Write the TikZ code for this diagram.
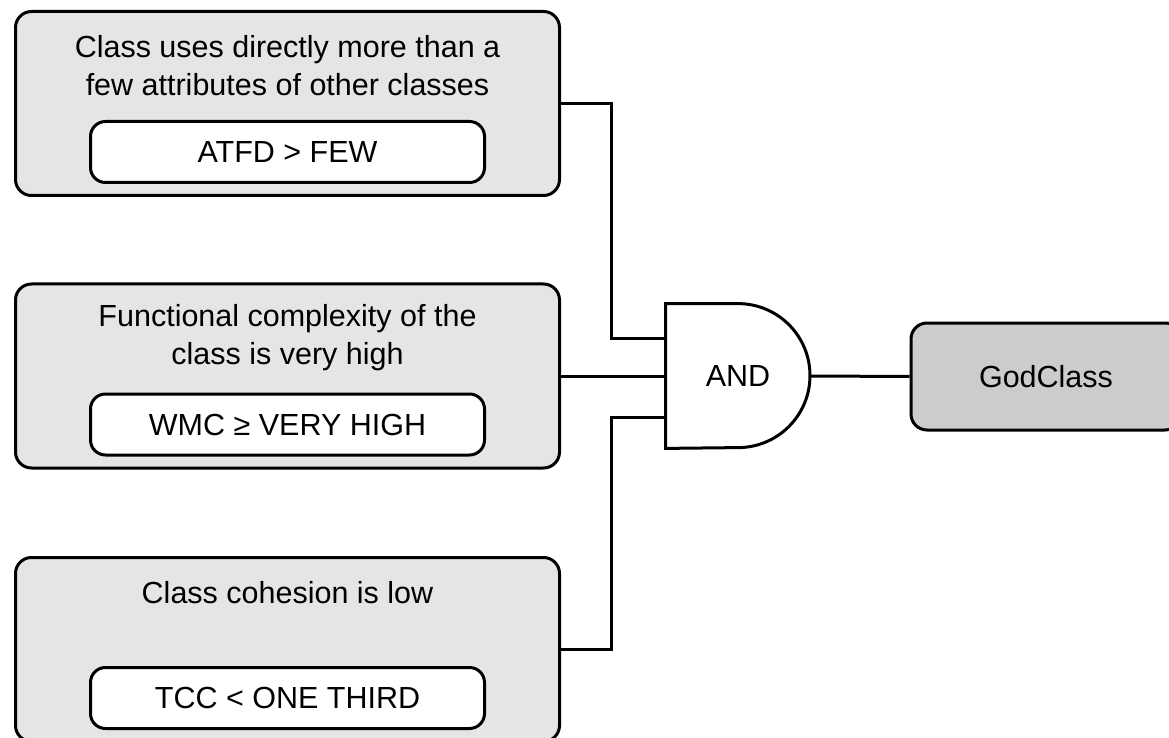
\documentclass[tikz,border=0pt]{standalone}
\usepackage{fontspec}
\setmainfont{Liberation Sans}
\usetikzlibrary{calc, positioning}
\definecolor{boxgray}{rgb}{0.9, 0.9, 0.9}
\definecolor{godgray}{rgb}{0.8, 0.8, 0.8}
\tikzstyle{criterion} = [rectangle, rounded corners=8pt, minimum width=272pt, minimum height=92pt, draw=black, line width=1.5pt, fill=boxgray]
\tikzstyle{metric} = [rectangle, rounded corners=7.5pt, minimum width=197pt, minimum height=30.5pt, draw=black, line width=1.5pt, fill=white]
\tikzstyle{result} = [rectangle, rounded corners=8pt, minimum width=135pt, minimum height=53.5pt, draw=black, line width=1.5pt, fill=godgray]
\tikzstyle{gatebox} = [rectangle, minimum width=72pt, minimum height=72pt, inner sep=0pt]
\tikzstyle{line} = [line width=1.5pt, -]

\begin{document}
\begin{tikzpicture}[x=0.5pt, y=-0.5pt, every node/.style={font=\fontsize{15.25}{19}\selectfont}, align=center]
\useasboundingbox (0,0) rectangle (1169,738);

% Criteria
\node (crit1) [criterion] at (287.5,103.5) {};
\node (crit1text) at ($(crit1.north)+(0,56)$) {Class uses directly more than a\\few attributes of other classes};
\node (atfd) [metric, above=6.5pt of crit1.south] {ATFD > FEW};

\node (crit2) [criterion] at (287.5,376) {};
\node (crit2text) at ($(crit2.north)+(0,55.5)$) {Functional complexity of the\\class is very high};
\node (wmc) [metric, above=6.5pt of crit2.south] {WMC ≥ VERY HIGH};

\node (crit3) [criterion] at (287.5,649.5) {};
\node (crit3text) at ($(crit3.north)+(0,37)$) {Class cohesion is low};
\node (tcc) [metric, above=6.5pt of crit3.south] {TCC < ONE THIRD};

% AND gate
\node (gate) [gatebox] at (738,376) {AND};
\draw[line] (gate.north west) -- (gate.north) arc[start angle=90, end angle=-90, radius=36pt] -- (gate.south west) -- cycle;
\coordinate (in1) at ([yshift=19pt]gate.west);
\coordinate (in3) at ([yshift=-20.5pt]gate.west);

% Result
\node (god) [result] at (1046,376.5) {GodClass};

\draw[line] (crit1.east) -- ++(50,0) |- (in1);
\draw[line] (crit2.east) -- (gate.west);
\draw[line] (crit3.east) -- ++(50,0) |- (in3);
\draw[line] (gate.east) -- (god.west);

\end{tikzpicture}
\end{document}
